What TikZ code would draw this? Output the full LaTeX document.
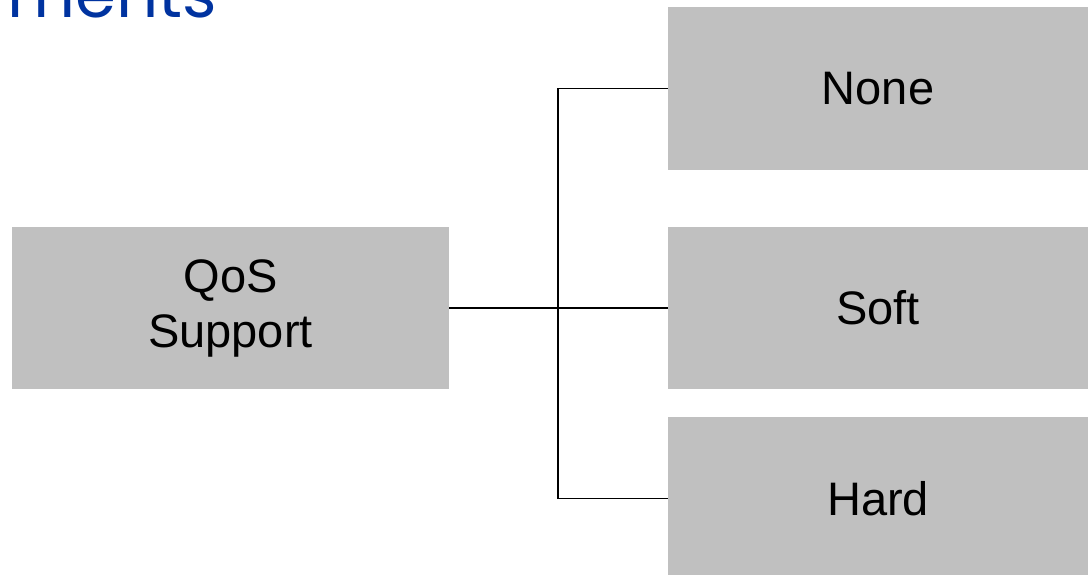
\documentclass[tikz,border=0pt]{standalone}
\usepackage{fontspec}
\setmainfont{Liberation Sans}
\newfontfamily\titlefont{Poppins}
\usetikzlibrary{positioning}
\definecolor{boxgray}{HTML}{C0C0C0}
\definecolor{titleblue}{HTML}{0033A0}
\tikzset{
  choice/.style={fill=boxgray, inner sep=0pt, align=center,
    font=\fontsize{23.5pt}{27.5pt}\selectfont},
  link/.style={black, line width=0.75pt}
}
\begin{document}
\begin{tikzpicture}[x=0.5pt, y=-0.5pt]
%frame
\useasboundingbox (0,0) rectangle (1088,574);
\clip (0,0) rectangle (1088,574);
%title, cut by the top edge
\node (title) [anchor=base west, inner sep=0pt, text=titleblue,
  font=\titlefont\fontsize{33pt}{37pt}\selectfont] at (7,17) {ments};
%the boxes
\node (qos) [choice, minimum width=218.5pt, minimum height=81pt] at (230.5,308) {QoS\\Support};
\node (none) [choice, minimum width=210pt, minimum height=81.5pt] at (878,88.5) {None};
\node (soft) [choice, minimum width=210pt, minimum height=81pt] at (878,308) {Soft};
\node (hard) [choice, minimum width=210pt, minimum height=81.5pt] at (878,498.5) {Hard};
%the connectors
\coordinate (split) at (558,308);
\draw [link] (qos.east) -- (split);
\draw [link] (split) |- (none.west);
\draw [link] (split) -- (soft.west);
\draw [link] (split) |- (hard.west);
\end{tikzpicture}
\end{document}
